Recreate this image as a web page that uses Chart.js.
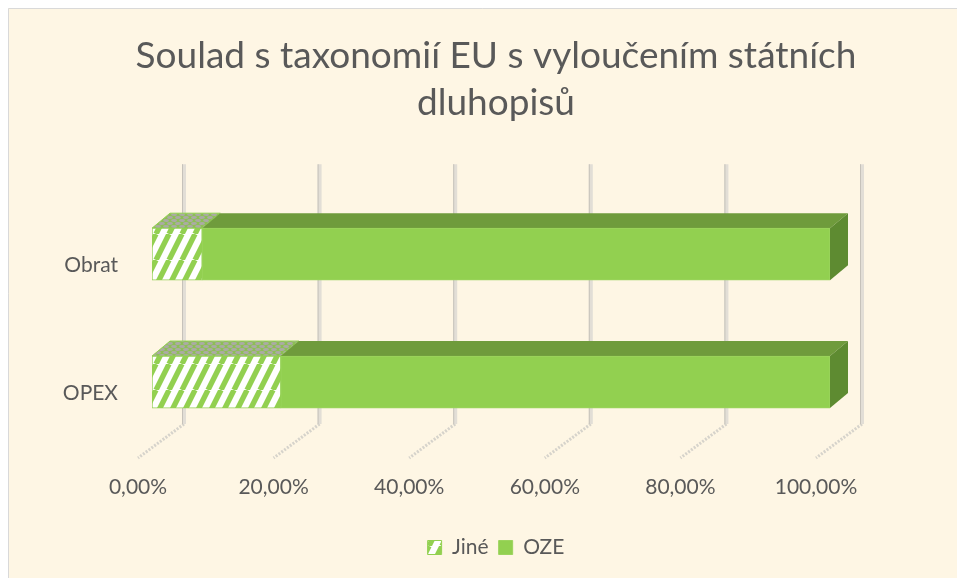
<!DOCTYPE html>
<html><head><meta charset="utf-8">
<script src="https://cdn.jsdelivr.net/npm/chart.js@4"></script>
<style>html,body{margin:0;padding:0;background:#fff}#wrap{width:957px;height:578px}</style>
</head><body><div id="wrap"><canvas id="c" width="957" height="578"></canvas></div>
<script>
// ---- data ----
const categories = ['Obrat', 'OPEX'];
const seriesNames = ['Jiné', 'OZE'];
const jineValues = [7.4, 19.0];
const ozeValues = [92.6, 81.0];
const xTickValues = [0, 20, 40, 60, 80, 100];
const titleLines = ['Soulad s taxonomií EU s vyloučením státních', 'dluhopisů'];

// ---- styles ----
const GREEN = '#92D050';
const GREEN_TOP = '#6F9B3C';
const GREEN_SIDE = '#5E8B31';
const TEXT = '#595959';
const FONT = 'Lato';
const DEPTH = {dx: 18, dy: -15};
const WALL = {dx: 32, topOff: -26, bottomOff: -22};
const FLOOR = {dx: -14, yOff: 12};

function stripePattern() {
  const c = document.createElement('canvas');
  c.width = 13; c.height = 26;
  const g = c.getContext('2d');
  g.fillStyle = '#ffffff'; g.fillRect(0, 0, 13, 26);
  g.strokeStyle = GREEN; g.lineWidth = 5.4;
  for (const x0 of [-13, 0, 13]) {
    g.beginPath(); g.moveTo(x0, 26); g.lineTo(x0 + 13, 0); g.stroke();
  }
  return g.createPattern(c, 'repeat');
}
function dotPattern() {
  const c = document.createElement('canvas');
  c.width = 8; c.height = 6;
  const g = c.getContext('2d');
  g.fillStyle = '#8DBF55'; g.fillRect(0, 0, 8, 6);
  g.fillStyle = '#ABABA4';
  const dots = [[2, 1.5], [6, 4.5], [10, 1.5], [-2, 4.5], [6, -1.5], [2, 7.5], [-2, -1.5], [10, 7.5]];
  for (const [x, y] of dots) { g.beginPath(); g.ellipse(x, y, 2.9, 1.4, 0, 0, Math.PI * 2); g.fill(); }
  return g.createPattern(c, 'repeat');
}
const hatch = stripePattern();
const dots = dotPattern();

const bgPlugin = {
  id: 'bg',
  beforeDraw(chart) {
    const ctx = chart.ctx;
    ctx.save();
    ctx.fillStyle = '#ffffff'; ctx.fillRect(0, 0, chart.width, chart.height);
    ctx.fillStyle = '#FEF6E4'; ctx.fillRect(8, 8, chart.width - 8, chart.height - 8);
    ctx.strokeStyle = '#D9D9D9'; ctx.lineWidth = 1;
    ctx.beginPath(); ctx.moveTo(8.5, chart.height); ctx.lineTo(8.5, 8.5); ctx.lineTo(chart.width, 8.5); ctx.stroke();
    ctx.restore();
  }
};

const threeD = {
  id: 'threeD',
  beforeDatasetsDraw(chart) {
    const ctx = chart.ctx, xs = chart.scales.x, area = chart.chartArea;
    ctx.save();
    const wallTop = area.top + WALL.topOff, wallBottom = area.bottom + WALL.bottomOff;
    const floorY = area.bottom + FLOOR.yOff;
    for (const v of xTickValues) {
      const px = xs.getPixelForValue(v);
      const xb = px + WALL.dx;
      ctx.strokeStyle = '#D6D3CB'; ctx.lineWidth = 3; ctx.setLineDash([2, 1.5]);
      ctx.beginPath(); ctx.moveTo(xb, wallBottom); ctx.lineTo(px + FLOOR.dx, floorY); ctx.stroke();
      ctx.setLineDash([]);
      ctx.fillStyle = '#E2DED6'; ctx.fillRect(xb - 2, wallTop, 4, wallBottom - wallTop);
      ctx.fillStyle = '#C6C2BA'; ctx.fillRect(xb - 2, wallTop, 1, wallBottom - wallTop);
    }
    const nSets = chart.data.datasets.length;
    for (let di = 0; di < nSets; di++) {
      const meta = chart.getDatasetMeta(di);
      meta.data.forEach((bar) => {
        const p = bar.getProps(['x', 'y', 'base', 'height'], true);
        const l = Math.min(p.x, p.base), r = Math.max(p.x, p.base);
        const t = p.y - p.height / 2, b = p.y + p.height / 2;
        ctx.fillStyle = di === 0 ? dots : GREEN_TOP;
        ctx.beginPath();
        ctx.moveTo(l, t); ctx.lineTo(l + DEPTH.dx, t + DEPTH.dy);
        ctx.lineTo(r + DEPTH.dx, t + DEPTH.dy); ctx.lineTo(r, t); ctx.closePath(); ctx.fill();
        if (di === 0) { ctx.strokeStyle = GREEN; ctx.lineWidth = 1; ctx.stroke(); }
        if (di === nSets - 1) {
          ctx.fillStyle = GREEN_SIDE;
          ctx.beginPath();
          ctx.moveTo(r, t); ctx.lineTo(r + DEPTH.dx, t + DEPTH.dy);
          ctx.lineTo(r + DEPTH.dx, b + DEPTH.dy); ctx.lineTo(r, b); ctx.closePath(); ctx.fill();
        }
      });
    }
    ctx.restore();
  }
};

new Chart(document.getElementById('c'), {
  type: 'bar',
  data: {
    labels: categories,
    datasets: [
      {label: seriesNames[0], data: jineValues, backgroundColor: hatch, borderColor: GREEN, borderWidth: 1, borderSkipped: false, barThickness: 52},
      {label: seriesNames[1], data: ozeValues, backgroundColor: GREEN, borderColor: '#9CD45E', borderWidth: 1, borderSkipped: false, barThickness: 52}
    ]
  },
  options: {
    indexAxis: 'y',
    responsive: false,
    animation: false,
    layout: {padding: {left: 35, right: 0, top: 0, bottom: 10}},
    scales: {
      x: {
        type: 'linear', min: 0, max: 100, stacked: true,
        afterBuildTicks: s => { s.ticks = xTickValues.map(v => ({value: v})); },
        afterFit: s => { s.height = 81; },
        grid: {display: false, drawTicks: false}, border: {display: false},
        ticks: {
          labelOffset: FLOOR.dx, padding: 29, color: TEXT, maxRotation: 0, autoSkip: false,
          font: {family: FONT, size: 21},
          callback: v => v.toFixed(2).replace('.', ',') + '%'
        }
      },
      y: {
        type: 'category', stacked: true, offset: true,
        afterFit: s => { s.width = 117; },
        grid: {display: false, drawTicks: false}, border: {display: false},
        ticks: {labelOffset: 11, padding: 34, color: TEXT, font: {family: FONT, size: 21}}
      },
      yRight: {
        type: 'category', position: 'right', offset: true,
        afterFit: s => { s.width = 127; },
        grid: {display: false, drawTicks: false}, border: {display: false},
        ticks: {display: false}
      }
    },
    plugins: {
      title: {
        display: true, text: titleLines, color: TEXT,
        font: {family: FONT, size: 37, weight: 'normal', lineHeight: 1.26},
        padding: {top: 33, bottom: 64}
      },
      legend: {
        position: 'bottom',
        labels: {color: TEXT, font: {family: FONT, size: 21}, boxWidth: 14, boxHeight: 14, padding: 10}
      },
      tooltip: {enabled: false}
    }
  },
  plugins: [bgPlugin, threeD]
});
</script>
</body></html>
